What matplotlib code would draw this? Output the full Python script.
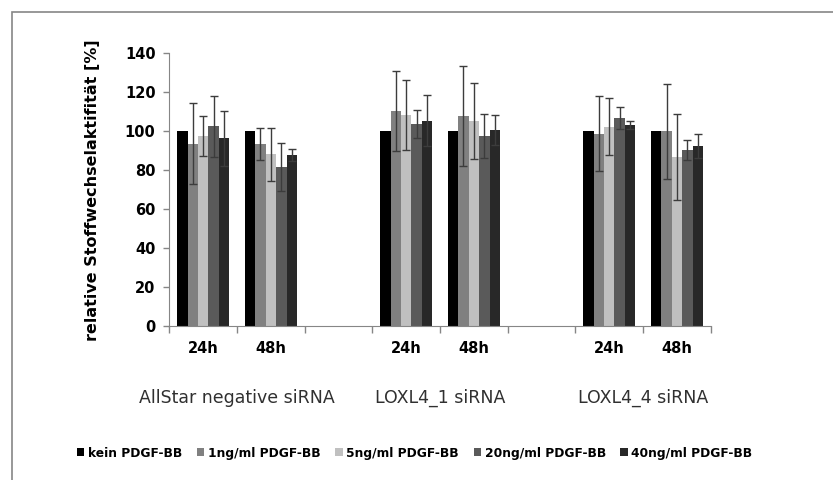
import numpy as np
import matplotlib.pyplot as plt
from matplotlib.patches import Rectangle

plt.rcParams["font.family"] = ["DejaVu Sans"]

# x layout: 24h / 48h per siRNA, with one empty slot between groups
time_labels = ["24h", "48h", "", "24h", "48h", "", "24h", "48h"]
slot_pos = [0, 1, 3, 4, 6, 7]
groups = ["AllStar negative siRNA", "LOXL4_1 siRNA", "LOXL4_4 siRNA"]

series = ["kein PDGF-BB", "1ng/ml PDGF-BB", "5ng/ml PDGF-BB",
          "20ng/ml PDGF-BB", "40ng/ml PDGF-BB"]
colors = ["#000000", "#808080", "#c0c0c0", "#5a5a5a", "#282828"]

means = [
    [100, 100, 100, 100, 100, 100],
    [93.7, 93.4, 110.2, 107.7, 98.8, 100.0],
    [97.5, 88.2, 108.4, 105.5, 102.4, 86.8],
    [102.6, 81.5, 103.8, 97.6, 106.9, 90.3],
    [96.3, 87.7, 105.5, 100.9, 103.1, 92.3],
]
errs = [
    None,
    [20.8, 8.2, 20.5, 25.6, 19.4, 24.5],
    [10.2, 13.5, 18.0, 19.5, 14.8, 22.0],
    [15.6, 12.4, 7.1, 11.3, 5.7, 5.2],
    [14.3, 3.0, 13.3, 7.7, 2.0, 6.1],
]

fig = plt.figure(figsize=(8.33, 4.8), dpi=100)
ax = fig.add_axes([0.2033, 0.3208, 0.65, 0.568])

bw = 0.154
x0 = np.array(slot_pos) + 0.5
for i, (name, col) in enumerate(zip(series, colors)):
    xs = x0 + (i - 2) * bw
    ax.bar(xs, means[i], width=bw, color=col, label=name, zorder=2)
    if errs[i] is not None:
        ax.errorbar(xs, means[i], yerr=errs[i], fmt="none", ecolor="#3c3c3c",
                    elinewidth=1, capsize=3, capthick=1, zorder=3)

ax.set_xlim(0, 8)
ax.set_ylim(0, 140)
ax.set_yticks(np.arange(0, 141, 20))
ax.set_xticks(np.arange(8) + 0.5)
ax.set_xticklabels(time_labels, fontweight="bold", fontsize=10.5)
ax.set_xticks(np.arange(9), minor=True)
ax.tick_params(axis="x", which="major", length=0, pad=11)
ax.tick_params(axis="x", which="minor", length=5, color="#868686", width=1)
ax.tick_params(axis="y", length=4, color="#868686", width=1, pad=6,
               labelsize=10.5)
for lbl in ax.get_yticklabels():
    lbl.set_fontweight("bold")

for s in ["top", "right"]:
    ax.spines[s].set_visible(False)
for s in ["left", "bottom"]:
    ax.spines[s].set_color("#868686")

ax.set_ylabel("relative Stoffwechselaktifität [%]", fontweight="bold",
              fontsize=11.5, labelpad=18)

for k, g in enumerate(groups):
    ax.text(1 + 3 * k, -37, g, ha="center", va="center", fontsize=12.5,
            color="#303030", transform=ax.transData, clip_on=False)

fig.legend(loc="center", bbox_to_anchor=(0.498, 0.056), ncol=5, frameon=False,
           handlelength=0.6, handleheight=0.6, handletextpad=0.3,
           columnspacing=1.2, prop={"weight": "bold", "size": 8.8})

# outer frame of the chart area
fig.patches.append(Rectangle((12 / 833, -0.1), 1.1, (480 - 12) / 480 + 0.1,
                             transform=fig.transFigure, fill=False,
                             edgecolor="#868686", linewidth=1.2))

fig.savefig("out.png", dpi=100)
